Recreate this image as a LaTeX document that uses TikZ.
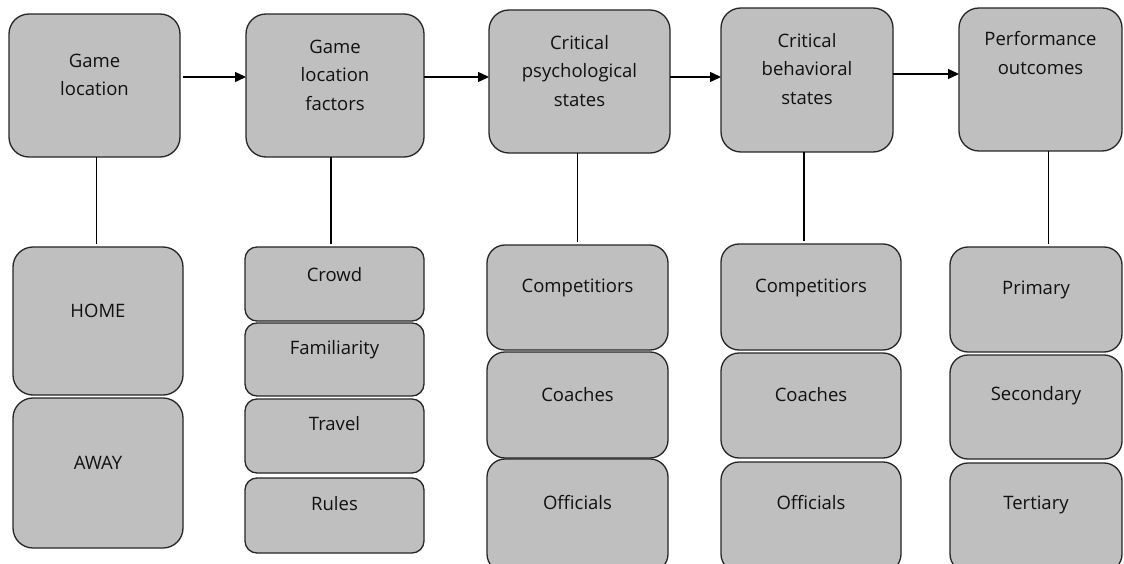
\documentclass[tikz,border=0pt]{standalone}
\usepackage{fontspec}
\setmainfont{Open Sans}
\usetikzlibrary{arrows.meta}
\definecolor{boxgray}{HTML}{BFBFBF}
\definecolor{txtgray}{HTML}{111111}
\tikzset{
  box/.style={draw=black!85, fill=boxgray, line width=1.3pt, inner sep=0pt, outer sep=0pt},
  txt/.style={font=\fontsize{18.5}{28.5}\selectfont, text=txtgray, align=center, inner sep=0pt},
  flow/.style={line width=1.4pt, -{Triangle[length=11pt,width=10pt]}},
  link/.style={line width=1.4pt, shorten >=3pt}
}
\newcommand\bx[6]{\node[box, minimum width=#4pt, minimum height=#5pt, rounded corners=#6pt] (#1) at (#2,#3) {};}
\begin{document}
\begin{tikzpicture}[x=1pt,y=-1pt]
\useasboundingbox (0,0) rectangle (1124,564);
\fill[white] (0,0) rectangle (1124,564);
\begin{scope}
\clip (0,0) rectangle (1124,564);
% top boxes
\bx{t1}{94.5}{85.5}{171}{143}{20}
\bx{t2}{335}{85.5}{178}{143}{20}
\bx{t3}{579.5}{81.5}{181}{143}{20}
\bx{t4}{807}{80}{172}{144}{20}
\bx{t5}{1040.5}{79.5}{163}{143}{20}
% column 1
\bx{h1}{98}{321}{170}{148}{20}
\bx{h2}{98}{473}{170}{150}{20}
% column 2
\bx{f1}{334.5}{284}{179}{74}{12}
\bx{f2}{334.5}{359.5}{179}{73}{12}
\bx{f3}{334.5}{436}{179}{74}{12}
\bx{f4}{334.5}{515.5}{179}{75}{12}
% column 3
\bx{p1}{577.5}{297.5}{181}{105}{18}
\bx{p2}{577.5}{405}{181}{106}{18}
\bx{p3}{577.5}{515.5}{181}{113}{18}
% column 4
\bx{b1}{811}{297}{180}{106}{18}
\bx{b2}{811}{405.5}{180}{105}{18}
\bx{b3}{811}{517}{180}{110}{18}
% column 5
\bx{o1}{1036}{299.5}{172}{105}{18}
\bx{o2}{1036}{407}{172}{104}{18}
\bx{o3}{1036}{517.5}{172}{109}{18}
\end{scope}
% texts
\node[txt] (t1t) at (94.5,75) {Game\\location};
\node[txt] (t2t) at (335,75) {Game\\location\\factors};
\node[txt] (t3t) at (579.5,71) {Critical\\psychological\\states};
\node[txt] (t4t) at (807,69) {Critical\\behavioral\\states};
\node[txt] (t5t) at (1040.5,53) {Performance\\outcomes};
\node[txt] (h1t) at (98,311) {HOME};
\node[txt] (h2t) at (98,463) {AWAY};
\node[txt] (f1t) at (334.5,275) {Crowd};
\node[txt] (f2t) at (334.5,350) {Familiarity};
\node[txt] (f3t) at (334.5,424) {Travel};
\node[txt] (f4t) at (334.5,504) {Rules};
\node[txt] (p1t) at (577.5,288) {Competitiors};
\node[txt] (p2t) at (577.5,395) {Coaches};
\node[txt] (p3t) at (577.5,503) {Officials};
\node[txt] (b1t) at (811,288) {Competitiors};
\node[txt] (b2t) at (811,395) {Coaches};
\node[txt] (b3t) at (811,503) {Officials};
\node[txt] (o1t) at (1036,290) {Primary};
\node[txt] (o2t) at (1036,396) {Secondary};
\node[txt] (o3t) at (1036,505) {Tertiary};
% arrows
\draw[flow] ([xshift=3pt,yshift=8.5pt]t1.east) -- ([yshift=8.5pt]t2.west);
\draw[flow] ([yshift=8.5pt]t2.east) -- ([yshift=4.5pt]t3.west);
\draw[flow] ([yshift=4.5pt]t3.east) -- ([yshift=3pt]t4.west);
\draw[flow] ([yshift=6pt]t4.east) -- ([yshift=5.5pt]t5.west);
% vertical links
\draw[link] ([xshift=2pt]t1.south) -- ([xshift=2pt]t1.south |- h1.north);
\draw[link] ([xshift=-4pt]t2.south) -- ([xshift=-4pt]t2.south |- f1.north);
\draw[link] ([xshift=-2pt]t3.south) -- ([xshift=-2pt]t3.south |- p1.north);
\draw[link] ([xshift=-3pt]t4.south) -- ([xshift=-3pt]t4.south |- b1.north);
\draw[link] ([xshift=8pt]t5.south) -- ([xshift=8pt]t5.south |- o1.north);
\end{tikzpicture}
\end{document}
